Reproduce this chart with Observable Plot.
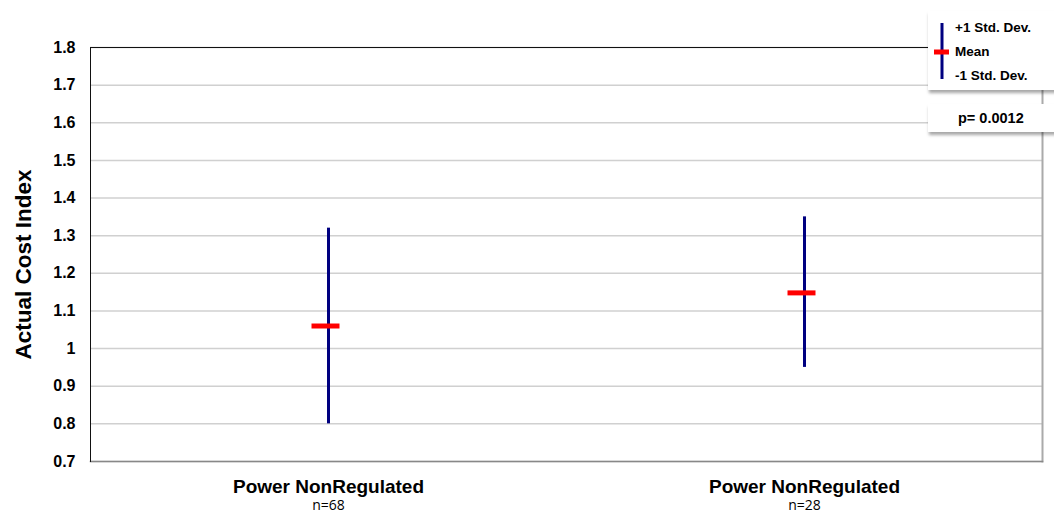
<!DOCTYPE html>
<html>
<head>
<meta charset="utf-8">
<script src="https://cdn.jsdelivr.net/npm/d3@7"></script>
<script src="https://cdn.jsdelivr.net/npm/@observablehq/plot@0.6"></script>
<style>
  html, body { margin: 0; padding: 0; background: #fff; }
  #wrap { position: relative; width: 1054px; height: 513px; font-family: Arial, "Liberation Sans", sans-serif; }
  .box { position: absolute; background: #fff; box-shadow: 1px 3px 3px rgba(0,0,0,0.35); }
  .lg { position: absolute; font-weight: bold; font-size: 13.5px; color: #000; white-space: nowrap; line-height: 1; }
</style>
</head>
<body>
<div id="wrap"></div>
<script>
const categories = ["Power NonRegulated", "Power NonRegulated "];
const counts = [68, 28];
const meanValues = [1.06, 1.148];
const plusOneSD = [1.32, 1.35];
const minusOneSD = [0.80, 0.95];
const yTicks = [0.7, 0.8, 0.9, 1.0, 1.1, 1.2, 1.3, 1.4, 1.5, 1.6, 1.7, 1.8];
const yLabel = "Actual Cost Index";
const legendLabels = ["+1 Std. Dev.", "Mean", "-1 Std. Dev."];
const pText = "p= 0.0012";

const data = categories.map((c, i) => ({cat: c, n: counts[i], mean: meanValues[i], hi: plusOneSD[i], lo: minusOneSD[i]}));

const chart = Plot.plot({
  width: 1054,
  height: 513,
  marginLeft: 90,
  marginRight: 12,
  marginTop: 47,
  marginBottom: 52,
  style: {fontFamily: "Arial, 'Liberation Sans', sans-serif", background: "transparent"},
  x: {type: "band", domain: categories, padding: 0},
  y: {domain: [0.7, 1.8]},
  marks: [
    Plot.gridY(yTicks, {stroke: "#d0d0d0", strokeOpacity: 1, strokeWidth: 1.5}),
    Plot.frame({anchor: "right", stroke: "#aaa", strokeWidth: 2}),
    Plot.frame({anchor: "bottom", stroke: "#888", strokeWidth: 1.5}),
    Plot.frame({anchor: "left", stroke: "#111"}),
    Plot.frame({anchor: "top", stroke: "#111"}),
    Plot.axisY(yTicks, {tickSize: 0, tickPadding: 15, fontSize: 16, fontWeight: "bold", fill: "#000",
      tickFormat: d => String(+d.toFixed(1)), label: null}),
    Plot.axisX({tickSize: 0, tickPadding: 18, fontSize: 19, fontWeight: "bold", fill: "#000",
      tickFormat: d => d.trim(), label: null}),
    Plot.text(data, {x: "cat", text: d => "n=" + d.n, frameAnchor: "bottom", lineAnchor: "top", dy: 39,
      fontSize: 14, fontFamily: "'Open Sans', sans-serif", fill: "#000"}),
    Plot.text([yLabel], {text: d => d, frameAnchor: "left", textAnchor: "middle", rotate: -90, dx: -67, dy: 10,
      fontSize: 22.5, fontWeight: "bold", fill: "#000"}),
    Plot.ruleX(data, {x: "cat", y1: "lo", y2: "hi", stroke: "#000080", strokeWidth: 3}),
    Plot.tickY(data, {x: "cat", y: "mean", stroke: "#ff0000", strokeWidth: 5, insetLeft: 221.5, insetRight: 226.5})
  ]
});

const wrap = document.getElementById("wrap");
wrap.appendChild(chart);

// legend box
const lb = document.createElement("div");
lb.className = "box";
Object.assign(lb.style, {left: "928px", top: "11px", width: "130px", height: "79px"});
lb.innerHTML = `
  <svg width="30" height="79" style="position:absolute;left:0;top:0">
    <line x1="14" x2="14" y1="12" y2="68" stroke="#000080" stroke-width="3"/>
    <line x1="6" x2="21" y1="41" y2="41" stroke="#ff0000" stroke-width="5"/>
  </svg>`;
legendLabels.forEach((t, i) => {
  const d = document.createElement("div");
  d.className = "lg";
  d.textContent = t;
  Object.assign(d.style, {left: "27px", top: (10 + i * 24) + "px"});
  lb.appendChild(d);
});
wrap.appendChild(lb);

const pb = document.createElement("div");
pb.className = "box";
Object.assign(pb.style, {left: "928px", top: "104px", width: "130px", height: "28px"});
const pt = document.createElement("div");
pt.className = "lg";
pt.textContent = pText;
Object.assign(pt.style, {left: "30px", top: "7px", fontSize: "14.5px"});
pb.appendChild(pt);
wrap.appendChild(pb);
</script>
</body>
</html>
